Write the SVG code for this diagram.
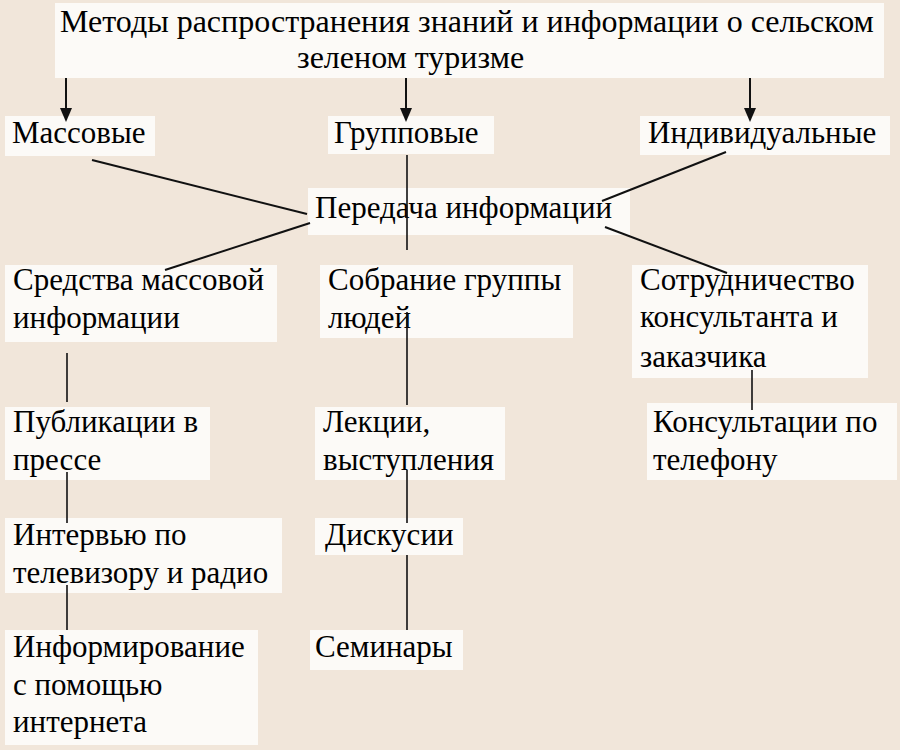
<svg xmlns="http://www.w3.org/2000/svg" width="900" height="750" viewBox="0 0 900 750">
<rect x="0" y="0" width="900" height="750" fill="#f1e6da"/>

<g id="title">
<rect x="55" y="3" width="829" height="75" fill="#fcfaf7"/>
<text x="60" y="32" font-size="32" font-family="Liberation Serif">Методы распространения знаний и информации о сельском</text>
<text x="297" y="68" font-size="32" font-family="Liberation Serif">зеленом туризме</text>
</g>

<g id="massovye">
<rect x="5" y="116" width="150" height="40" fill="#fcfaf7"/>
<text x="12" y="143" font-size="31" font-family="Liberation Serif">Массовые</text>
</g>
<g id="gruppovye">
<rect x="328" y="116" width="166" height="38" fill="#fcfaf7"/>
<text x="334" y="143" font-size="31" font-family="Liberation Serif">Групповые</text>
</g>
<g id="individualnye">
<rect x="640" y="116" width="250" height="39" fill="#fcfaf7"/>
<text x="648" y="143" font-size="31" font-family="Liberation Serif">Индивидуальные</text>
</g>

<g id="peredacha">
<rect x="308" y="188" width="322" height="47" fill="#fcfaf7"/>
<text x="315" y="218" font-size="31" font-family="Liberation Serif">Передача информации</text>
</g>

<g id="smi">
<rect x="5" y="265" width="272" height="77" fill="#fcfaf7"/>
<text x="13" y="290" font-size="31" font-family="Liberation Serif">Средства массовой</text>
<text x="13" y="328" font-size="31" font-family="Liberation Serif">информации</text>
</g>
<g id="sobranie">
<rect x="320" y="265" width="253" height="73" fill="#fcfaf7"/>
<text x="328" y="290" font-size="31" font-family="Liberation Serif">Собрание группы</text>
<text x="328" y="328" font-size="31" font-family="Liberation Serif">людей</text>
</g>
<g id="sotrudnichestvo">
<rect x="632" y="265" width="236" height="113" fill="#fcfaf7"/>
<text x="640" y="290" font-size="31" font-family="Liberation Serif">Сотрудничество</text>
<text x="640" y="327" font-size="31" font-family="Liberation Serif">консультанта и</text>
<text x="640" y="367" font-size="31" font-family="Liberation Serif">заказчика</text>
</g>

<g id="publikacii">
<rect x="5" y="407" width="205" height="73" fill="#fcfaf7"/>
<text x="13" y="432" font-size="31" font-family="Liberation Serif">Публикации в</text>
<text x="13" y="470" font-size="31" font-family="Liberation Serif">прессе</text>
</g>
<g id="lekcii">
<rect x="315" y="407" width="190" height="73" fill="#fcfaf7"/>
<text x="323" y="432" font-size="31" font-family="Liberation Serif">Лекции,</text>
<text x="323" y="470" font-size="31" font-family="Liberation Serif">выступления</text>
</g>
<g id="konsultacii">
<rect x="647" y="403" width="250" height="77" fill="#fcfaf7"/>
<text x="653" y="432" font-size="31" font-family="Liberation Serif">Консультации по</text>
<text x="653" y="470" font-size="31" font-family="Liberation Serif">телефону</text>
</g>

<g id="intervyu">
<rect x="5" y="518" width="277" height="75" fill="#fcfaf7"/>
<text x="13" y="545" font-size="31" font-family="Liberation Serif">Интервью по</text>
<text x="13" y="583" font-size="31" font-family="Liberation Serif">телевизору и радио</text>
</g>
<g id="diskusii">
<rect x="315" y="518" width="148" height="37" fill="#fcfaf7"/>
<text x="325" y="545" font-size="31" font-family="Liberation Serif">Дискусии</text>
</g>

<g id="informirovanie">
<rect x="5" y="630" width="253" height="115" fill="#fcfaf7"/>
<text x="13" y="657" font-size="31" font-family="Liberation Serif">Информирование</text>
<text x="13" y="695" font-size="31" font-family="Liberation Serif">с помощью</text>
<text x="13" y="732" font-size="31" font-family="Liberation Serif">интернета</text>
</g>
<g id="seminary">
<rect x="310" y="630" width="153" height="40" fill="#fcfaf7"/>
<text x="315" y="657" font-size="31" font-family="Liberation Serif">Семинары</text>
</g>

<g id="connectors" stroke="#111" stroke-width="2" fill="none">
<line x1="66" y1="78" x2="66" y2="110"/>
<line x1="406" y1="78" x2="406" y2="110"/>
<line x1="750" y1="78" x2="750" y2="110"/>
<g fill="#111" stroke="none">
<polygon points="60,108 72,108 66,122"/>
<polygon points="400,108 412,108 406,122"/>
<polygon points="744,108 756,108 750,122"/>
</g>
<line x1="92" y1="160" x2="307" y2="214"/>
<line x1="726" y1="152" x2="602" y2="201"/>
<line x1="310" y1="223" x2="165" y2="270"/>
<line x1="605" y1="227" x2="727" y2="273"/>
<g stroke-width="1.6">
<line x1="407" y1="155" x2="407" y2="250"/>
<line x1="407" y1="312" x2="407" y2="405"/>
<line x1="407" y1="470" x2="407" y2="523"/>
<line x1="407" y1="555" x2="407" y2="630"/>
<line x1="67" y1="353" x2="67" y2="402"/>
<line x1="67" y1="472" x2="67" y2="523"/>
<line x1="67" y1="585" x2="67" y2="630"/>
<line x1="752" y1="370" x2="752" y2="410"/>
</g>
</g>
</svg>
